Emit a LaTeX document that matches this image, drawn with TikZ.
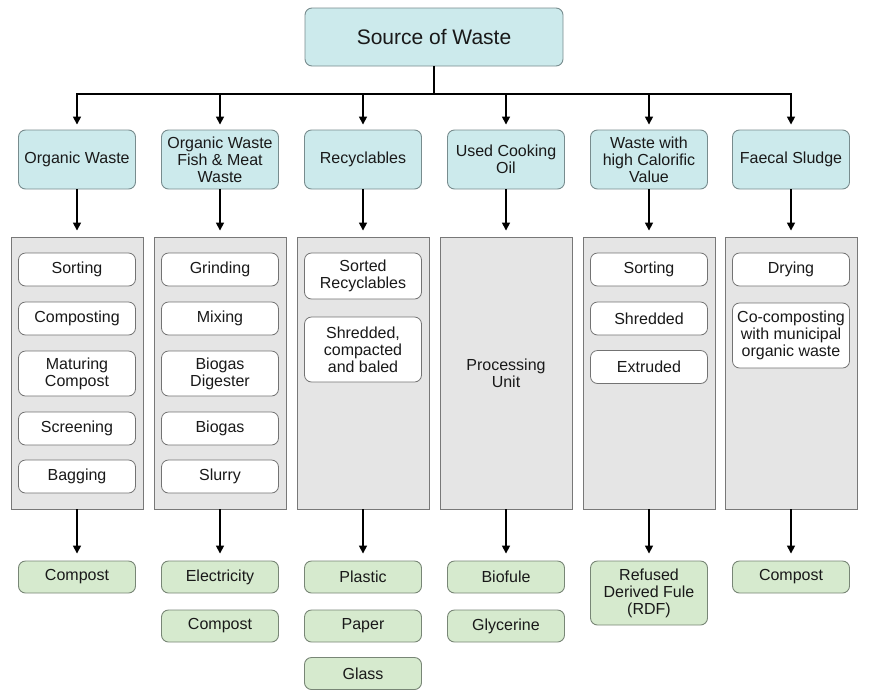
\documentclass[tikz,border=0pt]{standalone}
\usepackage{fontspec}
\setmainfont{Liberation Sans}
\usetikzlibrary{arrows.meta}
\definecolor{headfill}{RGB}{204,234,236}
\definecolor{headline}{RGB}{120,140,142}
\definecolor{outfill}{RGB}{214,234,206}
\definecolor{outline}{RGB}{120,134,118}
\definecolor{panelfill}{RGB}{229,229,229}
\definecolor{panelline}{RGB}{120,120,120}
\definecolor{stepline}{RGB}{115,115,115}
\definecolor{ink}{RGB}{25,25,25}
\tikzset{
  txt/.style={font=\fontsize{16}{17}\selectfont, text=ink, align=center, inner sep=0pt},
  srcbox/.style={txt, draw=headline, fill=headfill, rounded corners=7pt, line width=0.9pt,
    minimum width=258pt, minimum height=58pt, font=\fontsize{21}{23}\selectfont},
  headbox/.style={txt, draw=headline, fill=headfill, rounded corners=7pt, line width=0.9pt,
    minimum width=117pt, minimum height=59pt},
  panel/.style={draw=panelline, fill=panelfill, line width=0.9pt, inner sep=0pt,
    minimum width=132pt, minimum height=272pt},
  stepbox/.style={txt, draw=stepline, fill=white, rounded corners=7pt, line width=0.8pt,
    minimum width=117pt, minimum height=33pt},
  outbox/.style={txt, draw=outline, fill=outfill, rounded corners=7pt, line width=0.9pt,
    minimum width=117pt, minimum height=32pt},
  conn/.style={draw=black, line width=1.6pt},
  arr/.style={conn, -{Triangle[length=8pt,width=8pt]}},
}
\begin{document}
\begin{tikzpicture}[x=1pt,y=-1pt]
\useasboundingbox (0,0) rectangle (874,691);

% top node
\node[srcbox] (src) at (434,37) {Source of Waste};

% waste streams
\node[headbox] (c1) at (77,159.5)  {Organic Waste};
\node[headbox] (c2) at (220,159.5) {Organic Waste\\Fish \& Meat\\Waste};
\node[headbox] (c3) at (363,159.5) {Recyclables};
\node[headbox] (c4) at (506,159.5) {Used Cooking\\Oil};
\node[headbox] (c5) at (649,159.5) {Waste with\\high Calorific\\Value};
\node[headbox] (c6) at (791,159.5) {Faecal Sludge};

% distribution bus
\coordinate (bus) at (434,94);
\draw[conn] (src.south) -- (bus);
\draw[conn, line cap=rect] (bus -| c1.north) -- (bus -| c6.north);
\foreach \c in {c1,c2,c3,c4,c5,c6}
  \draw[arr, shorten >=5pt] (bus -| \c.north) -- (\c.north);

% process panels
\node[panel] (p1) at (77,373) {};
\node[panel] (p2) at (220,373) {};
\node[panel] (p3) at (363,373) {};
\node[panel, txt, draw=panelline, fill=panelfill] (p4) at (506,373) {Processing\\Unit};
\node[panel] (p5) at (649,373) {};
\node[panel] (p6) at (791,373) {};

\foreach \i in {1,...,6}
  \draw[arr, shorten >=6pt] (c\i.south) -- (p\i.north);

% steps: organic waste
\node[stepbox] (s11) at (77,269.5) {Sorting};
\node[stepbox] (s12) at (77,318.5) {Composting};
\node[stepbox, minimum height=45pt] (s13) at (77,373.5) {Maturing\\Compost};
\node[stepbox] (s14) at (77,428.5) {Screening};
\node[stepbox] (s15) at (77,476.5) {Bagging};

% steps: fish and meat waste
\node[stepbox] (s21) at (220,269.5) {Grinding};
\node[stepbox] (s22) at (220,318.5) {Mixing};
\node[stepbox, minimum height=45pt] (s23) at (220,373.5) {Biogas\\Digester};
\node[stepbox] (s24) at (220,428.5) {Biogas};
\node[stepbox] (s25) at (220,476.5) {Slurry};

% steps: recyclables
\node[stepbox, minimum height=46pt] (s31) at (363,276) {Sorted\\Recyclables};
\node[stepbox, minimum height=65pt] (s32) at (363,349.5) {Shredded,\\compacted\\and baled};

% steps: high calorific value waste
\node[stepbox] (s51) at (649,269.5) {Sorting};
\node[stepbox] (s52) at (649,318.5) {Shredded};
\node[stepbox] (s53) at (649,367) {Extruded};

% steps: faecal sludge
\node[stepbox] (s61) at (791,269.5) {Drying};
\node[stepbox, minimum height=65pt] (s62) at (791,335.5) {Co-composting\\with municipal\\organic waste};

% products
\node[outbox] (o1)  at (77,577)  {Compost};
\node[outbox] (o2)  at (220,577) {Electricity};
\node[outbox] (o2b) at (220,626) {Compost};
\node[outbox] (o3)  at (363,577) {Plastic};
\node[outbox] (o3b) at (363,626) {Paper};
\node[outbox] (o3c) at (363,673.5) {Glass};
\node[outbox] (o4)  at (506,577) {Biofule};
\node[outbox] (o4b) at (506,626) {Glycerine};
\node[outbox, minimum height=64pt] (o5) at (649,593) {Refused\\Derived Fule\\(RDF)};
\node[outbox] (o6)  at (791,577) {Compost};

\foreach \i in {1,...,6}
  \draw[arr, shorten >=7pt] (p\i.south) -- (p\i.south |- o\i.north);
\end{tikzpicture}
\end{document}
